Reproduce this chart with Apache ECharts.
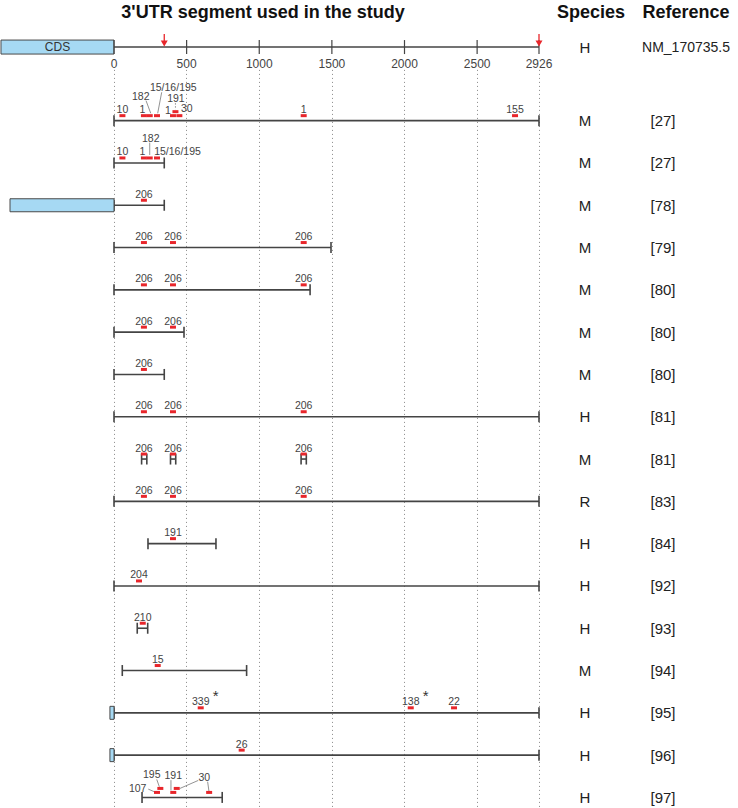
<!DOCTYPE html>
<html><head><meta charset="utf-8">
<script src="https://cdn.jsdelivr.net/npm/echarts@6/dist/echarts.min.js"></script>
<style>html,body{margin:0;padding:0;background:#fff}#c{width:738px;height:808px}</style>
</head><body><div id="c"></div>
<script>
// ================= DATA =================
const axisMax = 2926;
const tickValues = [0, 500, 1000, 1500, 2000, 2500, 2926];
const titleText = "3'UTR segment used in the study";
const speciesHeader = 'Species';
const referenceHeader = 'Reference';
const refSpecies = 'H';
const refTranscript = 'NM_170735.5';
const refCds = [-778, 0];
const refArrows = [346, 2926];

const species = ['M','M','M','M','M','M','M','H','M','R','H','H','H','M','H','H','H'];
const references = ['[27]','[27]','[78]','[79]','[80]','[80]','[80]','[81]','[81]','[83]','[84]','[92]','[93]','[94]','[95]','[96]','[97]'];
// studied 3'UTR segments per row: [start, end] in nt
const segments = [
  [[0, 2926]],
  [[0, 346]],
  [[0, 346]],
  [[0, 1494]],
  [[0, 1350]],
  [[0, 482]],
  [[0, 346]],
  [[0, 2926]],
  [[190, 226], [389, 425], [1288, 1324]],
  [[0, 2926]],
  [[234, 702]],
  [[0, 2926]],
  [[160, 232]],
  [[57, 913]],
  [[0, 2926]],
  [[0, 2926]],
  [[193, 745]]
];
// CDS part included in the construct (start, nt; ends at 0)
const cdsStart = [null, null, -716, null, null, null, null, null, null, null, null, null, null, null, -28, -28, null];
// miRNA sites per row: [position nt, miR label, significant(1)]
const sites = [
  [[58,'10'],[206,'1'],[246,'182'],[296,'15/16/195'],[406,'1'],[423,'191'],[450,'30'],[1306,'1'],[2761,'155']],
  [[58,'10'],[206,'1'],[246,'182'],[296,'15/16/195']],
  [[206,'206']],
  [[206,'206'],[406,'206'],[1306,'206']],
  [[206,'206'],[406,'206'],[1306,'206']],
  [[206,'206'],[406,'206']],
  [[206,'206']],
  [[206,'206'],[406,'206'],[1306,'206']],
  [[206,'206'],[406,'206'],[1306,'206']],
  [[206,'206'],[406,'206'],[1306,'206']],
  [[406,'191']],
  [[172,'204']],
  [[198,'210']],
  [[301,'15']],
  [[597,'339',1],[2043,'138',1],[2341,'22']],
  [[879,'26']],
  [[296,'107'],[319,'195'],[408,'191'],[432,'30'],[655,'30']]
];

// ================= LAYOUT / STYLE =================
const FONT = '"Liberation Sans", Arial, Helvetica, sans-serif';
const L = {
  gridLeft: 114, gridRight: 199, gridTop: 69.9, gridBottom: 0,
  yMin: -1.2, yMax: 16.25, headerRow: -1.74,
  speciesX: 585, refX: 663, refHeaderX: 686,
  titleY: 12, titleX: 263, speciesHX: 591, refHX: 686,
  cap: 5.5, cdsH: 13, refCdsH: 14, markW: 6, markH: 3,
  markOff: 5, markOffUp: 9, labelOff: -6.5
};
const C = { line: '#444', mark: '#e8262b', cds: '#a6d9f3', cdsStroke: '#4a4a4a', text: '#444', col: '#222' };
const upperSites = { '0:5': 1, '16:1': 1, '16:3': 1 };
const labelLayout = {
  '0:1': { dx: -1.5 },
  '0:2': { dx: -9, dy: -19.7, leader: [-3.7, -15, 1, -2.4] },
  '0:3': { dx: 16.3, dy: -28.4, leader: [4.7, -23.4, 0.7, -2.4] },
  '0:4': { dx: -5, dy: -5.5 },
  '0:5': { dx: 0.5, dy: -13.5, leader: [0, -8.5, 0, -2.4], dotted: true },
  '0:6': { dx: 7.4, dy: -7.4 },
  '1:1': { dx: -1.5 },
  '1:2': { dx: 1, dy: -19.7, leader: [0, -15.3, 0, -3] },
  '1:3': { dx: 20.5, dy: -7.3 },
  '16:0': { dx: -19.3, dy: -4.7, leader: [-8.7, -3.3, -2.7, -0.7] },
  '16:1': { dx: -8.6, dy: -14, leader: [-3.6, -9, -1, -1.7] },
  '16:2': { dx: 0, dy: -17.3, leader: [-2.3, -12.3, -2.3, -2] },
  '16:3': { dx: 27.5, dy: -11.4, leader: [21.5, -8, 3.2, 0] },
  '16:4': { hide: true, leader: [-1.5, -10.7, -0.2, -1.3] }
};

function txt(x, y, text, font, fill, align) {
  return { type: 'text', x: x, y: y, style: { text: text, font: font, fill: fill,
    align: align || 'center', verticalAlign: 'middle', textAlign: align || 'center', textVerticalAlign: 'middle' } };
}
function ln(x1, y1, x2, y2, stroke, w, dash) {
  const st = { stroke: stroke, lineWidth: w };
  if (dash) st.lineDash = dash;
  return { type: 'line', shape: { x1: x1, y1: y1, x2: x2, y2: y2 }, style: st };
}
function rc(x, y, w, h, fill, stroke) {
  return { type: 'rect', shape: { x: x, y: y, width: w, height: h }, style: { fill: fill, stroke: stroke || null, lineWidth: stroke ? 1 : 0 } };
}

function renderHeader(params, api) {
  const r = L.headerRow;
  const y = api.coord([0, r])[1];
  const X = v => api.coord([v, r])[0];
  const ch = [];
  const cx1 = X(refCds[0]), cx2 = X(refCds[1]);
  ch.push(rc(cx1, y - L.refCdsH / 2, cx2 - cx1, L.refCdsH, C.cds, C.cdsStroke));
  ch.push(txt((cx1 + cx2) / 2, y, 'CDS', '12px ' + FONT, '#333'));
  ch.push(ln(X(0), y, X(axisMax), y, C.line, 1.6));
  tickValues.forEach(v => ch.push(ln(X(v), y - 7, X(v), y + 7, C.line, 1.2)));
  refArrows.forEach(v => {
    const x = X(v);
    ch.push(ln(x, y - 13, x, y - 5, C.mark, 1.3));
    ch.push({ type: 'polygon', shape: { points: [[x - 3.5, y - 6.5], [x + 3.5, y - 6.5], [x, y - 0.5]] }, style: { fill: C.mark } });
  });
  ch.push(txt(L.speciesX, y, refSpecies, '15px ' + FONT, C.col));
  ch.push(txt(L.refHeaderX, y, refTranscript, '14px ' + FONT, C.col));
  return { type: 'group', children: ch };
}

function renderRow(params, api) {
  const i = api.value(1);
  const y = api.coord([0, i])[1];
  const X = v => api.coord([v, i])[0];
  const ch = [];
  ch.push(txt(L.speciesX, y, species[i], '15px ' + FONT, C.col));
  ch.push(txt(L.refX, y, references[i], '15px ' + FONT, C.col));
  segments[i].forEach(seg => {
    const x1 = X(seg[0]), x2 = X(seg[1]);
    ch.push(ln(x1, y, x2, y, C.line, 1.6));
    ch.push(ln(x1, y - L.cap, x1, y + L.cap, C.line, 1.6));
    ch.push(ln(x2, y - L.cap, x2, y + L.cap, C.line, 1.6));
  });
  if (cdsStart[i] !== null) {
    const a = X(cdsStart[i]), b = X(0);
    ch.push(rc(a, y - L.cdsH / 2, b - a, L.cdsH, C.cds, C.cdsStroke));
  }
  sites[i].forEach((s, k) => {
    const key = i + ':' + k;
    const mx = X(s[0]);
    const my = y - (upperSites[key] ? L.markOffUp : L.markOff);
    const lay = labelLayout[key] || {};
    if (lay.leader) {
      const q = lay.leader;
      ch.push(ln(mx + q[0], my + q[1], mx + q[2], my + q[3], '#777', 0.8, lay.dotted ? [1.5, 1.5] : null));
    }
    ch.push(rc(mx - L.markW / 2, my - L.markH / 2, L.markW, L.markH, C.mark));
    if (!lay.hide) {
      const lx = mx + (lay.dx || 0), ly = my + (lay.dy !== undefined ? lay.dy : L.labelOff);
      ch.push(txt(lx, ly, s[1], '10.5px ' + FONT, C.text));
      if (s[2]) ch.push(txt(lx + 15, ly - 6, '*', '15px ' + FONT, '#333'));
    }
  });
  return { type: 'group', children: ch };
}

const chart = echarts.init(document.getElementById('c'), null, { renderer: 'svg' });
chart.setOption({
  animation: false,
  backgroundColor: '#fff',
  grid: { left: L.gridLeft, right: L.gridRight, top: L.gridTop, bottom: L.gridBottom },
  xAxis: {
    type: 'value', min: 0, max: axisMax, interval: 500, position: 'top',
    axisLine: { show: false }, axisTick: { show: false },
    axisLabel: { margin: 0, fontSize: 12, color: '#444', fontFamily: FONT, showMaxLabel: true, showMinLabel: true,
      formatter: v => String(v) },
    splitLine: { show: true, lineStyle: { color: '#888', width: 1, type: [1, 3] } }
  },
  yAxis: { type: 'value', inverse: true, min: L.yMin, max: L.yMax, show: false, splitLine: { show: false } },
  graphic: [
    txt(L.titleX, L.titleY, titleText, 'bold 18px ' + FONT, '#111'),
    txt(L.speciesHX, L.titleY, speciesHeader, 'bold 18px ' + FONT, '#111'),
    txt(L.refHX, L.titleY, referenceHeader, 'bold 18px ' + FONT, '#111')
  ],
  series: [
    { type: 'custom', clip: false, silent: true, renderItem: renderHeader, data: [[0, L.headerRow]], encode: { x: 0, y: 1 } },
    { type: 'custom', clip: false, silent: true, renderItem: renderRow, data: species.map((s, i) => [0, i]), encode: { x: 0, y: 1 } }
  ]
});
</script></body></html>
